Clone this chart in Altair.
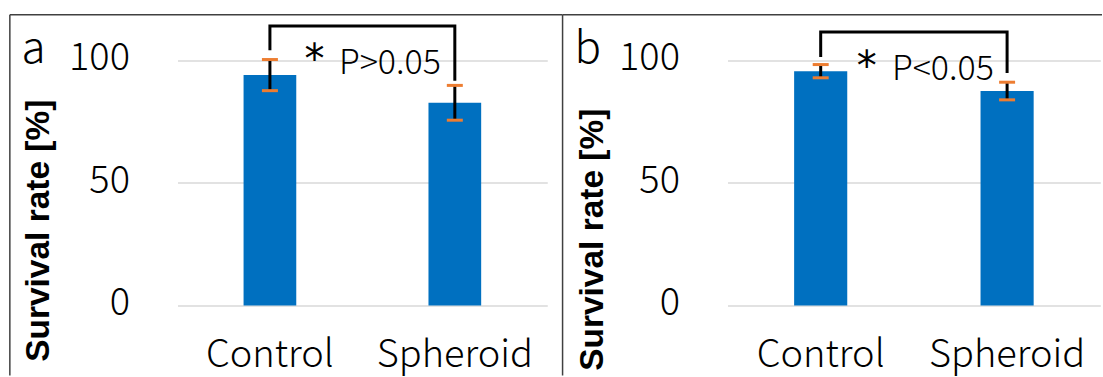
import altair as alt
import pandas as pd

categories = ["Control", "Spheroid"]

# panel a
mean_a = [94.0, 82.7]
err_a = [6.35, 7.1]
bracket_top_a = 114.0
leg_bottom_a = [104.1, 91.7]
star_y_a = 94.9
p_text_a = "P>0.05"
p_y_a = 94.6

# panel b
mean_b = [95.6, 87.5]
err_b = [2.7, 3.6]
bracket_top_b = 111.6
leg_bottom_b = [101.4, 94.9]
star_y_b = 91.8
p_text_b = "P<0.05"
p_y_b = 91.9

y_ticks = [0, 50, 100]
y_title = "Survival rate [%]"

BLUE = "#0070C0"
ORANGE = "#ED7D31"
GRID = "#D9D9D9"
FRAME = "#404040"
LFONT = "Noto Sans CJK JP"
TFONT = "Liberation Sans"

W_A, W_B, H = 370, 373, 282


def panel(label, means, errs, btop, legs, star_y, ptext, p_y, width,
          title_x, title_y, label_x, frame_left, top_right, star_x, p_x):
    df = pd.DataFrame({
        "category": categories,
        "mean": means,
        "lo": [m - e for m, e in zip(means, errs)],
        "hi": [m + e for m, e in zip(means, errs)],
    })
    x = alt.X("category:N", sort=categories, title=None,
              scale=alt.Scale(paddingInner=0.715, paddingOuter=0.3575),
              axis=alt.Axis(labelFont=LFONT, labelFontSize=38, labelFontWeight=300,
                            labelColor="black", labelAngle=0, labelPadding=31,
                            domain=False, ticks=False, tickSize=0, grid=False))
    y = alt.Y("mean:Q", title=y_title,
              scale=alt.Scale(domain=[0, 115], nice=False),
              axis=alt.Axis(values=y_ticks, grid=True, gridColor=GRID, gridWidth=1.5,
                            domain=False, ticks=False, tickSize=0,
                            labelFont=LFONT, labelFontSize=38, labelFontWeight=300,
                            labelColor="black", labelPadding=48,
                            labelBaseline="alphabetic", labelOffset=9.5,
                            titleFont=TFONT, titleFontSize=33.5, titleFontWeight="bold",
                            titleColor="black", titleAngle=270, titleAlign="center",
                            titleBaseline="middle", titleX=title_x, titleY=title_y))
    base = alt.Chart(df)
    bars = base.mark_bar(color=BLUE).encode(x=x, y=y)
    err = base.mark_rule(color="black", strokeWidth=3).encode(
        x=alt.X("category:N", sort=categories), y="lo:Q", y2="hi:Q")
    caps_lo = base.mark_tick(color=ORANGE, size=16, thickness=3, opacity=1).encode(
        x=alt.X("category:N", sort=categories), y="lo:Q")
    caps_hi = base.mark_tick(color=ORANGE, size=16, thickness=3, opacity=1).encode(
        x=alt.X("category:N", sort=categories), y="hi:Q")

    br = pd.DataFrame({
        "category": [categories[0], categories[0], categories[1], categories[1]],
        "y": [legs[0], btop, btop, legs[1]],
        "o": [0, 1, 2, 3],
    })
    bracket = alt.Chart(br).mark_line(color="black", strokeWidth=3,
                                      strokeJoin="miter", strokeCap="butt").encode(
        x=alt.X("category:N", sort=categories), y="y:Q", order="o:Q")

    ann = pd.DataFrame({"t": ["*"], "y": [star_y]})
    star = alt.Chart(ann).mark_text(font="DejaVu Sans", fontSize=40, align="center",
                                    baseline="alphabetic", color="black").encode(
        x=alt.value(star_x), y="y:Q", text="t:N")
    pdf = pd.DataFrame({"t": [ptext], "y": [p_y]})
    ptxt = alt.Chart(pdf).mark_text(font=LFONT, fontSize=34, fontWeight=300,
                                    align="left", baseline="alphabetic",
                                    color="black").encode(
        x=alt.value(p_x), y="y:Q", text="t:N")
    ldf = pd.DataFrame({"t": [label]})
    lab = alt.Chart(ldf).mark_text(font=LFONT, fontSize=44, fontWeight=300,
                                   align="left", baseline="alphabetic",
                                   color="black").encode(
        x=alt.value(label_x), y=alt.value(39), text="t:N")

    one = alt.Chart(pd.DataFrame({"k": [0]}))
    vline = one.mark_rule(color=FRAME, strokeWidth=1.5).encode(
        x=alt.value(frame_left), y=alt.value(-9), y2=alt.value(352))
    hline = one.mark_rule(color=FRAME, strokeWidth=1.5).encode(
        x=alt.value(frame_left), x2=alt.value(top_right), y=alt.value(-9))

    return alt.layer(bars, err, caps_lo, caps_hi, bracket, star, ptxt, lab,
                     vline, hline).properties(width=width, height=H)


pa = panel("a", mean_a, err_a, bracket_top_a, leg_bottom_a, star_y_a, p_text_a, p_y_a,
           W_A, -138.6, 206.7, -156, -167.7, 385.3, 137, 161.5)
pb = panel("b", mean_b, err_b, bracket_top_b, leg_bottom_b, star_y_b, p_text_b, p_y_b,
           W_B, -135.3, 215.7, -153, -165, 374.7, 139.4, 164.5)

chart = alt.hconcat(pa, pb, spacing=180.3, bounds="flush").properties(
    padding={"left": 8.55, "top": 13.55, "right": 0, "bottom": 0},
    background="white",
).configure_view(stroke=None)

chart.save("out.html", embed_options={"renderer": "svg", "actions": False})
